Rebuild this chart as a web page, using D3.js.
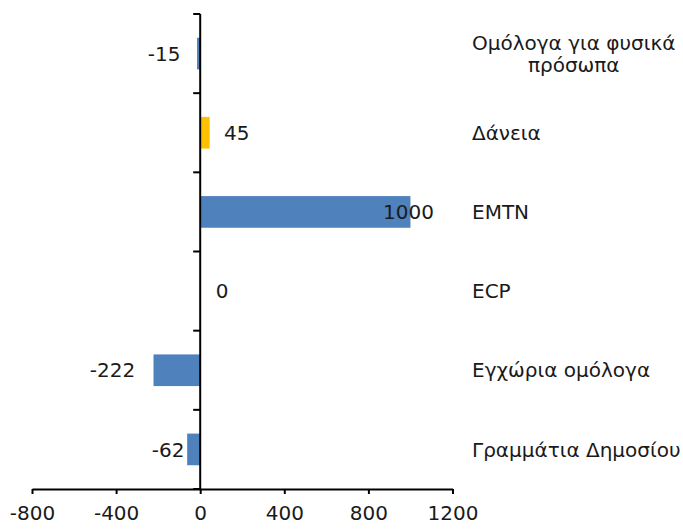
<!DOCTYPE html>
<html>
<head>
<meta charset="utf-8">
<script src="https://cdn.jsdelivr.net/npm/d3@7"></script>
<style>
  html, body { margin: 0; padding: 0; background: #fff; }
  svg { display: block; }
  text { font-family: "DejaVu Sans", Verdana, sans-serif; fill: #1a1a1a; }
</style>
</head>
<body>
<svg id="chart" width="683" height="529"></svg>
<script>
// ---- data ----
const categories = [
  ["Ομόλογα για φυσικά", "πρόσωπα"],
  ["Δάνεια"],
  ["EMTN"],
  ["ECP"],
  ["Εγχώρια ομόλογα"],
  ["Γραμμάτια Δημοσίου"]
];
const values = [-15, 45, 1000, 0, -222, -62];
const highlighted = [false, true, false, false, false, false];
const xTicks = [-800, -400, 0, 400, 800, 1200];

// ---- style / layout ----
const BLUE = "#4F81BD", GOLD = "#FFC000";
const labelNudge = [-33, 27, -2, 22, -41, -19]; // px offset of value labels from bar end
const plot = { left: 32, right: 452.5, top: 14, bottom: 489 };
const FS = 20;

const svg = d3.select("#chart");
const x = d3.scaleLinear().domain([-800, 1200]).range([plot.left, plot.right]);
const y = d3.scaleBand().domain(d3.range(categories.length))
  .range([plot.top, plot.bottom]).paddingInner(0.6).paddingOuter(0.3);
const step = y.step();

// bars
svg.append("g").selectAll("rect").data(values).join("rect")
  .attr("x", d => Math.min(x(d), x(0)))
  .attr("width", d => Math.abs(x(d) - x(0)))
  .attr("y", (d, i) => y(i))
  .attr("height", y.bandwidth())
  .attr("fill", (d, i) => highlighted[i] ? GOLD : BLUE);

// x axis
const xAxis = svg.append("g").attr("transform", `translate(0,${plot.bottom})`)
  .call(d3.axisBottom(x).tickValues(xTicks).tickFormat(d => String(d)).tickSizeInner(5).tickSizeOuter(0).tickPadding(12));
xAxis.select(".domain").attr("stroke", "#000").attr("stroke-width", 2);
xAxis.selectAll(".tick line").attr("stroke", "#000").attr("stroke-width", 2);
xAxis.selectAll(".tick text").style("font-size", FS + "px").attr("fill", "#1a1a1a")
  .style("font-family", "'DejaVu Sans', Verdana, sans-serif");

// y axis at zero
const bounds = d3.range(categories.length + 1).map(i => plot.top + i * step);
const yAxis = svg.append("g");
yAxis.append("line").attr("x1", x(0)).attr("x2", x(0))
  .attr("y1", plot.top).attr("y2", plot.bottom + 1)
  .attr("stroke", "#000").attr("stroke-width", 2);
yAxis.selectAll("line.tk").data(bounds).join("line").attr("class", "tk")
  .attr("x1", x(0) - 7).attr("x2", x(0))
  .attr("y1", d => d).attr("y2", d => d)
  .attr("stroke", "#000").attr("stroke-width", 2);

// value labels
svg.append("g").selectAll("text").data(values).join("text")
  .attr("x", (d, i) => x(d) + labelNudge[i])
  .attr("y", (d, i) => y(i) + y.bandwidth() / 2)
  .attr("dy", "0.36em")
  .attr("text-anchor", "middle")
  .style("font-size", FS + "px")
  .text(d => String(d));

// category labels (right side)
const labelX = 472;
const lineH = 22;
categories.forEach((lines, i) => {
  const cy = y(i) + y.bandwidth() / 2;
  const g = svg.append("g");
  if (lines.length === 1) {
    g.append("text").attr("x", labelX).attr("y", cy).attr("dy", "0.36em")
      .style("font-size", FS + "px").text(lines[0]);
  } else {
    const t0 = g.append("text").attr("x", labelX).attr("y", cy - lineH / 2 * (lines.length - 1))
      .attr("dy", "0.36em").style("font-size", FS + "px").text(lines[0]);
    const w = t0.node().getComputedTextLength();
    t0.attr("x", labelX + w / 2).attr("text-anchor", "middle");
    lines.slice(1).forEach((ln, k) => {
      g.append("text").attr("x", labelX + w / 2).attr("text-anchor", "middle")
        .attr("y", cy - lineH / 2 * (lines.length - 1) + lineH * (k + 1))
        .attr("dy", "0.36em").style("font-size", FS + "px").text(ln);
    });
  }
});
</script>
</body>
</html>
